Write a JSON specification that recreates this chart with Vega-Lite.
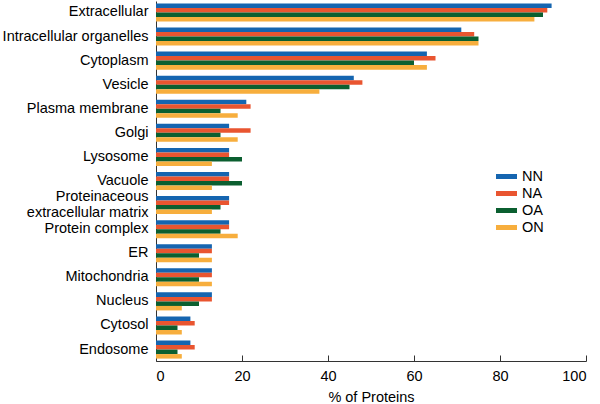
{
  "$schema": "https://vega.github.io/schema/vega-lite/v6.json",
  "description": "Subcellular localisation of proteins by group",
  "autosize": "none",
  "width": 430,
  "height": 360,
  "padding": {"left": 156, "top": 1, "right": 14, "bottom": 43},
  "config": {
    "font": "Liberation Sans",
    "view": {"stroke": null},
    "axis": {"labelColor": "black", "titleColor": "black", "domainColor": "#333", "tickColor": "#333", "grid": false}
  },
  "data": {
    "values": [
      {"loc": "Extracellular", "group": "NN", "pct": 92},
      {"loc": "Extracellular", "group": "NA", "pct": 91},
      {"loc": "Extracellular", "group": "OA", "pct": 90},
      {"loc": "Extracellular", "group": "ON", "pct": 88},
      {"loc": "Intracellular organelles", "group": "NN", "pct": 71},
      {"loc": "Intracellular organelles", "group": "NA", "pct": 74},
      {"loc": "Intracellular organelles", "group": "OA", "pct": 75},
      {"loc": "Intracellular organelles", "group": "ON", "pct": 75},
      {"loc": "Cytoplasm", "group": "NN", "pct": 63},
      {"loc": "Cytoplasm", "group": "NA", "pct": 65},
      {"loc": "Cytoplasm", "group": "OA", "pct": 60},
      {"loc": "Cytoplasm", "group": "ON", "pct": 63},
      {"loc": "Vesicle", "group": "NN", "pct": 46},
      {"loc": "Vesicle", "group": "NA", "pct": 48},
      {"loc": "Vesicle", "group": "OA", "pct": 45},
      {"loc": "Vesicle", "group": "ON", "pct": 38},
      {"loc": "Plasma membrane", "group": "NN", "pct": 21},
      {"loc": "Plasma membrane", "group": "NA", "pct": 22},
      {"loc": "Plasma membrane", "group": "OA", "pct": 15},
      {"loc": "Plasma membrane", "group": "ON", "pct": 19},
      {"loc": "Golgi", "group": "NN", "pct": 17},
      {"loc": "Golgi", "group": "NA", "pct": 22},
      {"loc": "Golgi", "group": "OA", "pct": 15},
      {"loc": "Golgi", "group": "ON", "pct": 19},
      {"loc": "Lysosome", "group": "NN", "pct": 17},
      {"loc": "Lysosome", "group": "NA", "pct": 17},
      {"loc": "Lysosome", "group": "OA", "pct": 20},
      {"loc": "Lysosome", "group": "ON", "pct": 13},
      {"loc": "Vacuole", "group": "NN", "pct": 17},
      {"loc": "Vacuole", "group": "NA", "pct": 17},
      {"loc": "Vacuole", "group": "OA", "pct": 20},
      {"loc": "Vacuole", "group": "ON", "pct": 13},
      {"loc": "Proteinaceous extracellular matrix", "group": "NN", "pct": 17},
      {"loc": "Proteinaceous extracellular matrix", "group": "NA", "pct": 17},
      {"loc": "Proteinaceous extracellular matrix", "group": "OA", "pct": 15},
      {"loc": "Proteinaceous extracellular matrix", "group": "ON", "pct": 13},
      {"loc": "Protein complex", "group": "NN", "pct": 17},
      {"loc": "Protein complex", "group": "NA", "pct": 17},
      {"loc": "Protein complex", "group": "OA", "pct": 15},
      {"loc": "Protein complex", "group": "ON", "pct": 19},
      {"loc": "ER", "group": "NN", "pct": 13},
      {"loc": "ER", "group": "NA", "pct": 13},
      {"loc": "ER", "group": "OA", "pct": 10},
      {"loc": "ER", "group": "ON", "pct": 13},
      {"loc": "Mitochondria", "group": "NN", "pct": 13},
      {"loc": "Mitochondria", "group": "NA", "pct": 13},
      {"loc": "Mitochondria", "group": "OA", "pct": 10},
      {"loc": "Mitochondria", "group": "ON", "pct": 13},
      {"loc": "Nucleus", "group": "NN", "pct": 13},
      {"loc": "Nucleus", "group": "NA", "pct": 13},
      {"loc": "Nucleus", "group": "OA", "pct": 10},
      {"loc": "Nucleus", "group": "ON", "pct": 6},
      {"loc": "Cytosol", "group": "NN", "pct": 8},
      {"loc": "Cytosol", "group": "NA", "pct": 9},
      {"loc": "Cytosol", "group": "OA", "pct": 5},
      {"loc": "Cytosol", "group": "ON", "pct": 6},
      {"loc": "Endosome", "group": "NN", "pct": 8},
      {"loc": "Endosome", "group": "NA", "pct": 9},
      {"loc": "Endosome", "group": "OA", "pct": 5},
      {"loc": "Endosome", "group": "ON", "pct": 6}
    ]
  },
  "mark": {"type": "bar"},
  "encoding": {
    "y": {
      "field": "loc",
      "type": "nominal",
      "sort": null,
      "scale": {"paddingInner": 0.25, "paddingOuter": 0.1},
      "axis": {
        "title": null,
        "ticks": false,
        "labelFontSize": 14.5,
        "labelPadding": 8,
        "labelLineHeight": 16,
        "labelLimit": 200,
        "labelOffset": {"condition": {"test": "datum.value == 'Proteinaceous extracellular matrix'", "value": -8}, "value": 0},
        "labelExpr": "datum.value == 'Proteinaceous extracellular matrix' ? ['Proteinaceous', 'extracellular matrix'] : datum.label"
      }
    },
    "yOffset": {"field": "group", "type": "nominal", "sort": ["NN", "NA", "OA", "ON"]},
    "x": {
      "field": "pct",
      "type": "quantitative",
      "scale": {"domain": [0, 100], "nice": false},
      "axis": {
        "title": "% of Proteins",
        "titleFontSize": 14.5,
        "titleFontWeight": "normal",
        "titlePadding": 8,
        "labelFontSize": 14.5,
        "tickSize": -6,
        "labelPadding": 14,
        "values": [0, 20, 40, 60, 80, 100]
      }
    },
    "color": {
      "field": "group",
      "type": "nominal",
      "sort": ["NN", "NA", "OA", "ON"],
      "scale": {"domain": ["NN", "NA", "OA", "ON"], "range": ["#1565b0", "#e95530", "#0b5f30", "#f7ae3d"]},
      "legend": {
        "title": null,
        "orient": "none",
        "legendX": 340,
        "legendY": 165,
        "padding": 0,
        "symbolType": "M-1,-0.24H1V0.24H-1Z",
        "symbolSize": 441,
        "symbolStrokeWidth": 0,
        "labelFontSize": 14.5,
        "labelOffset": 5,
        "rowPadding": -2
      }
    }
  }
}
